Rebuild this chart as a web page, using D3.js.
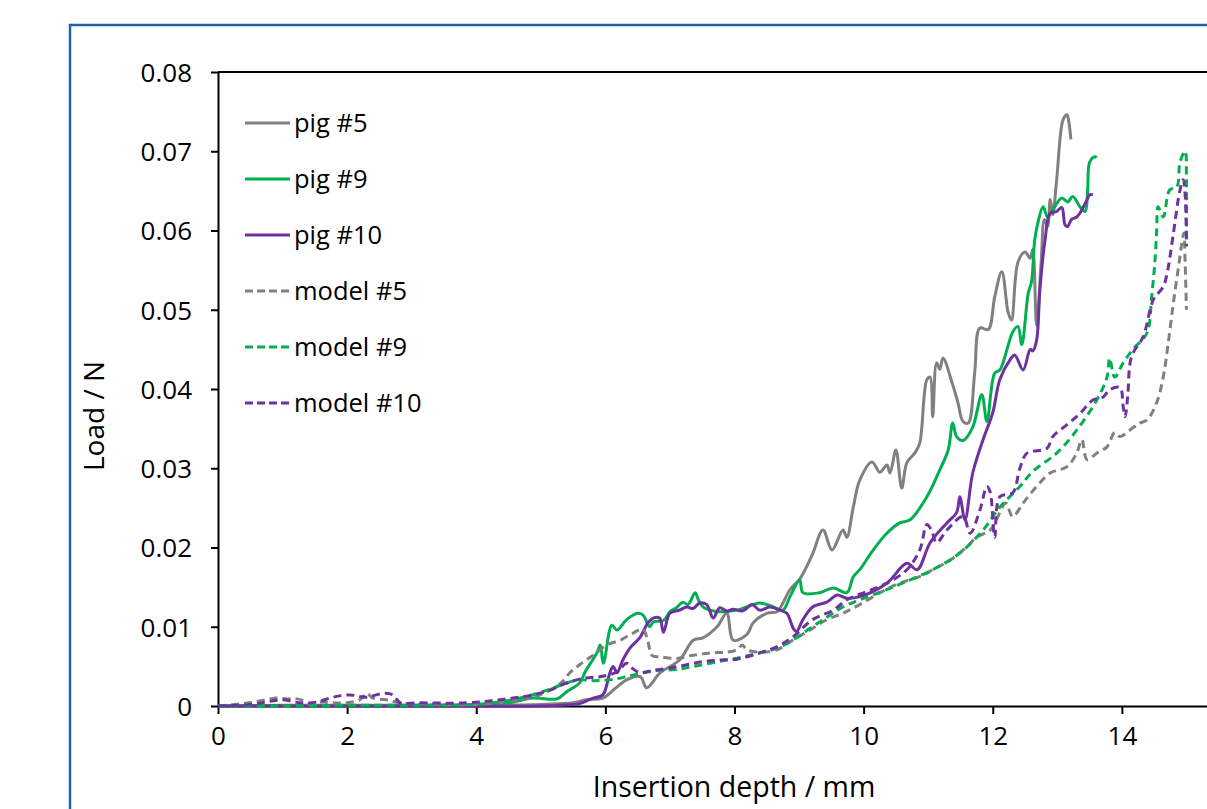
<!DOCTYPE html>
<html>
<head>
<meta charset="utf-8">
<script src="https://cdn.jsdelivr.net/npm/d3@7"></script>
<style>
  html, body { margin: 0; padding: 0; background: #fff; overflow: hidden; }
  svg { display: block; font-family: "Open Sans", "Noto Sans", sans-serif; }
</style>
</head>
<body>
<div id="chart"></div>
<script>
// Load vs insertion depth: three pig samples (solid) and their models (dashed).
// Values are [depth mm, load N].
const pig5 = [[0,0],[1,0.0001],[2,0.0001],[3,0.0001],[4,0.0001],[5,0.0002],[5.5,0.0004],[5.7,0.0008],[5.96,0.001],[6.15,0.0022],[6.33,0.0033],[6.54,0.0037],[6.64,0.0023],[6.85,0.0042],[7.15,0.0058],[7.36,0.0083],[7.51,0.0086],[7.73,0.010],[7.88,0.0117],[7.98,0.0083],[8.19,0.009],[8.29,0.0105],[8.5,0.0117],[8.66,0.0119],[8.75,0.013],[8.86,0.0147],[9.01,0.016],[9.2,0.019],[9.37,0.0222],[9.51,0.0197],[9.68,0.0222],[9.74,0.0213],[9.84,0.0251],[9.94,0.0285],[10.13,0.0308],[10.25,0.0295],[10.36,0.0304],[10.41,0.0294],[10.5,0.0323],[10.59,0.0275],[10.67,0.0307],[10.8,0.032],[10.87,0.0332],[10.98,0.0412],[11.03,0.0415],[11.07,0.0365],[11.13,0.0433],[11.18,0.0425],[11.23,0.0439],[11.37,0.0408],[11.46,0.0383],[11.54,0.0359],[11.62,0.0357],[11.72,0.042],[11.8,0.0477],[11.93,0.0475],[12.03,0.0516],[12.14,0.0548],[12.24,0.0496],[12.29,0.0487],[12.39,0.056],[12.5,0.0573],[12.58,0.0565],[12.62,0.0576],[12.68,0.048],[12.75,0.056],[12.8,0.0614],[12.85,0.0605],[12.89,0.0639],[12.93,0.062],[12.99,0.0664],[13.09,0.074],[13.15,0.0746],[13.18,0.0736],[13.21,0.0715]];
const pig9 = [[0,0],[2,0],[4,0.0001],[4.5,0.0004],[4.88,0.001],[5.25,0.0009],[5.4,0.0018],[5.6,0.0029],[5.7,0.0045],[5.87,0.0067],[5.92,0.0077],[5.97,0.0054],[6.1,0.0102],[6.18,0.0096],[6.33,0.0109],[6.5,0.0117],[6.58,0.0115],[6.69,0.010],[6.74,0.0106],[6.9,0.0108],[7.0,0.0119],[7.1,0.0124],[7.2,0.0131],[7.28,0.0128],[7.39,0.0143],[7.44,0.0134],[7.51,0.0125],[7.62,0.0121],[7.77,0.0119],[8.04,0.0121],[8.19,0.0125],[8.39,0.013],[8.6,0.0125],[8.75,0.0121],[8.86,0.0138],[9.01,0.0159],[9.06,0.0143],[9.32,0.0143],[9.53,0.0149],[9.74,0.0143],[9.84,0.0163],[9.94,0.0172],[10.15,0.0197],[10.36,0.0218],[10.56,0.0231],[10.72,0.0235],[10.98,0.0264],[11.18,0.0298],[11.31,0.0323],[11.38,0.0357],[11.44,0.034],[11.54,0.0335],[11.69,0.0352],[11.83,0.0393],[11.91,0.0359],[12.03,0.042],[12.11,0.0424],[12.31,0.0472],[12.39,0.0479],[12.45,0.0456],[12.55,0.0521],[12.6,0.0535],[12.65,0.0588],[12.7,0.061],[12.78,0.063],[12.85,0.0617],[12.93,0.0626],[13.07,0.0641],[13.16,0.0636],[13.24,0.0643],[13.35,0.063],[13.43,0.0624],[13.47,0.0651],[13.5,0.0686],[13.58,0.0693],[13.61,0.0692]];
const pig10 = [[0,0],[3,0],[5,0],[5.3,0.0001],[5.6,0.0003],[5.81,0.001],[5.96,0.0014],[6.07,0.0042],[6.12,0.005],[6.18,0.0042],[6.27,0.0058],[6.38,0.0073],[6.54,0.0087],[6.66,0.0105],[6.74,0.0111],[6.84,0.0111],[6.9,0.0093],[7.0,0.0117],[7.15,0.0121],[7.26,0.0125],[7.36,0.0123],[7.46,0.013],[7.57,0.0128],[7.67,0.0111],[7.77,0.0124],[7.88,0.012],[7.98,0.0122],[8.13,0.012],[8.27,0.0128],[8.39,0.0121],[8.55,0.0125],[8.7,0.0121],[8.81,0.0117],[8.91,0.0098],[8.96,0.0094],[9.06,0.0109],[9.21,0.0125],[9.43,0.0131],[9.59,0.014],[9.74,0.0136],[9.94,0.0138],[10.36,0.0155],[10.67,0.018],[10.83,0.0172],[11.03,0.0206],[11.29,0.0231],[11.44,0.0244],[11.49,0.0264],[11.57,0.0235],[11.69,0.0294],[11.85,0.0336],[12.0,0.037],[12.11,0.0412],[12.27,0.0437],[12.34,0.0443],[12.47,0.0424],[12.58,0.045],[12.62,0.0448],[12.68,0.0462],[12.73,0.0525],[12.81,0.0588],[12.89,0.0622],[12.99,0.0624],[13.07,0.0629],[13.12,0.0607],[13.16,0.0605],[13.22,0.0614],[13.3,0.0617],[13.35,0.0622],[13.4,0.0629],[13.46,0.0639],[13.5,0.0645],[13.55,0.0645]];
const model5 = [[0,0],[0.39,0.0003],[0.75,0.0008],[0.91,0.001],[1.06,0.0009],[1.22,0.0009],[1.32,0.0007],[1.43,0.0002],[1.58,0.0005],[1.78,0.0004],[2.0,0.0004],[2.2,0.0008],[2.3,0.0016],[2.4,0.001],[2.6,0.0008],[2.82,0.0004],[3.33,0.0002],[4.0,0.0002],[4.5,0.0006],[4.88,0.0011],[5.3,0.0028],[5.45,0.0042],[5.6,0.0052],[5.81,0.0064],[6.02,0.0077],[6.23,0.0083],[6.43,0.0092],[6.58,0.0097],[6.66,0.0081],[6.72,0.0064],[6.85,0.0062],[7.1,0.006],[7.36,0.0064],[7.62,0.0067],[7.88,0.0068],[8.04,0.0071],[8.12,0.0077],[8.19,0.0071],[8.39,0.0068],[8.66,0.0071],[8.9,0.0083],[9.17,0.0096],[9.43,0.0109],[9.68,0.0117],[9.94,0.0128],[10.3,0.0145],[10.56,0.0155],[10.92,0.0165],[11.07,0.0172],[11.34,0.0184],[11.6,0.0201],[11.75,0.0213],[11.96,0.0222],[12.11,0.0244],[12.2,0.0256],[12.31,0.0239],[12.47,0.0256],[12.68,0.0277],[12.89,0.0294],[13.15,0.0302],[13.3,0.0319],[13.38,0.0336],[13.46,0.0311],[13.61,0.0319],[13.77,0.0327],[13.89,0.0345],[13.97,0.034],[14.17,0.0351],[14.28,0.0357],[14.39,0.0361],[14.54,0.0383],[14.64,0.0415],[14.71,0.0453],[14.79,0.0504],[14.87,0.055],[14.93,0.0585],[14.96,0.0597],[14.98,0.0559],[15.0,0.05]];
const model9 = [[0,0],[1,0],[2,0.0001],[3,0.0001],[4,0.0002],[4.26,0.0004],[4.68,0.001],[5.1,0.002],[5.4,0.0029],[5.6,0.0033],[5.81,0.0032],[6.07,0.0033],[6.33,0.0037],[6.58,0.0042],[6.85,0.0045],[7.1,0.0046],[7.36,0.005],[7.62,0.0054],[7.88,0.0058],[8.13,0.0062],[8.39,0.0067],[8.66,0.0073],[8.9,0.0083],[9.17,0.0098],[9.43,0.0112],[9.68,0.0125],[9.94,0.0134],[10.3,0.0145],[10.6,0.0155],[11.07,0.0172],[11.49,0.0193],[11.85,0.0222],[12.11,0.0251],[12.42,0.0277],[12.62,0.0296],[12.99,0.0319],[13.3,0.0348],[13.61,0.0386],[13.77,0.0415],[13.81,0.0439],[13.89,0.0415],[14.02,0.0433],[14.17,0.045],[14.39,0.0471],[14.46,0.0516],[14.51,0.0559],[14.54,0.0601],[14.56,0.063],[14.64,0.0617],[14.74,0.0651],[14.85,0.0655],[14.9,0.0686],[14.98,0.07],[15.0,0.0664],[15.0,0.058]];
const model10 = [[0,0],[0.5,0.0002],[0.75,0.0005],[1.0,0.0008],[1.27,0.0004],[1.53,0.0005],[1.78,0.0011],[2.04,0.0014],[2.3,0.0011],[2.56,0.0016],[2.71,0.0014],[2.82,0.0004],[3.08,0.0004],[3.85,0.0004],[4.37,0.0008],[4.88,0.0014],[5.14,0.002],[5.4,0.0029],[5.66,0.0035],[5.92,0.0037],[6.18,0.0043],[6.33,0.0054],[6.41,0.0048],[6.54,0.0042],[6.74,0.0045],[7.0,0.0048],[7.26,0.0052],[7.51,0.0056],[7.77,0.0058],[8.04,0.0059],[8.39,0.0067],[8.66,0.0075],[8.9,0.0087],[9.21,0.0109],[9.53,0.0121],[9.74,0.0134],[9.94,0.0141],[10.36,0.0155],[10.67,0.0172],[10.87,0.0197],[10.98,0.0229],[11.05,0.0222],[11.13,0.0206],[11.29,0.0222],[11.54,0.0239],[11.65,0.0218],[11.8,0.0247],[11.91,0.0277],[11.96,0.027],[12.03,0.0213],[12.11,0.0264],[12.31,0.0269],[12.42,0.03],[12.53,0.0319],[12.84,0.0325],[12.93,0.034],[13.15,0.0355],[13.35,0.0369],[13.55,0.0386],[13.71,0.039],[13.81,0.0399],[13.97,0.0402],[14.02,0.0378],[14.05,0.0365],[14.09,0.039],[14.15,0.0441],[14.33,0.0466],[14.49,0.0513],[14.64,0.0529],[14.71,0.055],[14.79,0.0592],[14.9,0.0651],[14.95,0.0664],[14.98,0.0645],[15.0,0.058]];

const seriesNames = ['pig #5', 'pig #9', 'pig #10', 'model #5', 'model #9', 'model #10'];
const seriesData = [pig5, pig9, pig10, model5, model9, model10];
const xTicks = [0, 2, 4, 6, 8, 10, 12, 14];
const yTicks = [0, 0.01, 0.02, 0.03, 0.04, 0.05, 0.06, 0.07, 0.08];

const colors = ['#808080', '#00b050', '#7030a0', '#808080', '#00b050', '#7030a0'];
const dashed = [false, false, false, true, true, true];

const W = 1207, H = 809;
const plot = { left: 218, top: 72, right: 1251, bottom: 706 };

const svg = d3.select('#chart').append('svg')
  .attr('width', W)
  .attr('height', H);

// outer frame (runs off the right and bottom edges like the source crop)
svg.append('rect')
  .attr('x', 70).attr('y', 25)
  .attr('width', 1300).attr('height', 900)
  .attr('fill', '#fff')
  .attr('stroke', '#2463a3')
  .attr('stroke-width', 2.5);

// axis runs to 16 mm; the 16 tick falls outside the visible crop
const x = d3.scaleLinear().domain([0, 16]).range([plot.left, plot.right]);
const y = d3.scaleLinear().domain([0, 0.08]).range([plot.bottom, plot.top]);

// plot box top edge
svg.append('line')
  .attr('x1', plot.left).attr('x2', plot.right)
  .attr('y1', plot.top).attr('y2', plot.top)
  .attr('stroke', '#000').attr('stroke-width', 2);

const xAxis = svg.append('g')
  .attr('transform', `translate(0,${plot.bottom})`)
  .call(d3.axisBottom(x).tickValues(xTicks).tickSize(8).tickPadding(13).tickSizeOuter(0));
const yAxis = svg.append('g')
  .attr('transform', `translate(${plot.left},0)`)
  .call(d3.axisLeft(y).tickValues(yTicks).tickSize(7).tickPadding(19).tickSizeOuter(0)
    .tickFormat(d => d === 0 ? '0' : d3.format('.2f')(d)));

[xAxis, yAxis].forEach(g => {
  g.select('.domain').attr('stroke', '#000').attr('stroke-width', 2);
  g.selectAll('.tick line').attr('stroke', '#000').attr('stroke-width', 2);
  g.selectAll('.tick text')
    .attr('fill', '#000')
    .style('font-size', '26px')
    .style('font-family', '"Open Sans", sans-serif');
});
yAxis.selectAll('.tick text').attr('dy', '0.36em');

const line = d3.line()
  .x(d => x(d[0]))
  .y(d => y(d[1]))
  .curve(d3.curveCatmullRom.alpha(0.5));

const lines = svg.append('g');
seriesData.forEach((data, i) => {
  lines.append('path')
    .datum(data)
    .attr('d', line)
    .attr('fill', 'none')
    .attr('stroke', colors[i])
    .attr('stroke-width', 3)
    .attr('stroke-linejoin', 'round')
    .attr('stroke-dasharray', dashed[i] ? '8,5' : null);
});

// legend
const legend = svg.append('g');
seriesNames.forEach((name, i) => {
  const ly = 123 + i * 56;
  legend.append('line')
    .attr('x1', 245).attr('x2', 290)
    .attr('y1', ly).attr('y2', ly)
    .attr('stroke', colors[i])
    .attr('stroke-width', 3)
    .attr('stroke-dasharray', dashed[i] ? '8,4' : null);
  legend.append('text')
    .attr('x', 294).attr('y', ly + 9)
    .style('font-size', '25.5px')
    .attr('fill', '#000')
    .text(name);
});

// axis titles
svg.append('text')
  .attr('x', 734).attr('y', 797)
  .attr('text-anchor', 'middle')
  .style('font-size', '28.5px')
  .attr('fill', '#000')
  .text('Insertion depth / mm');

svg.append('text')
  .attr('transform', 'translate(104,416) rotate(-90)')
  .attr('text-anchor', 'middle')
  .style('font-size', '28px')
  .attr('fill', '#000')
  .text('Load / N');
</script>
</body>
</html>
